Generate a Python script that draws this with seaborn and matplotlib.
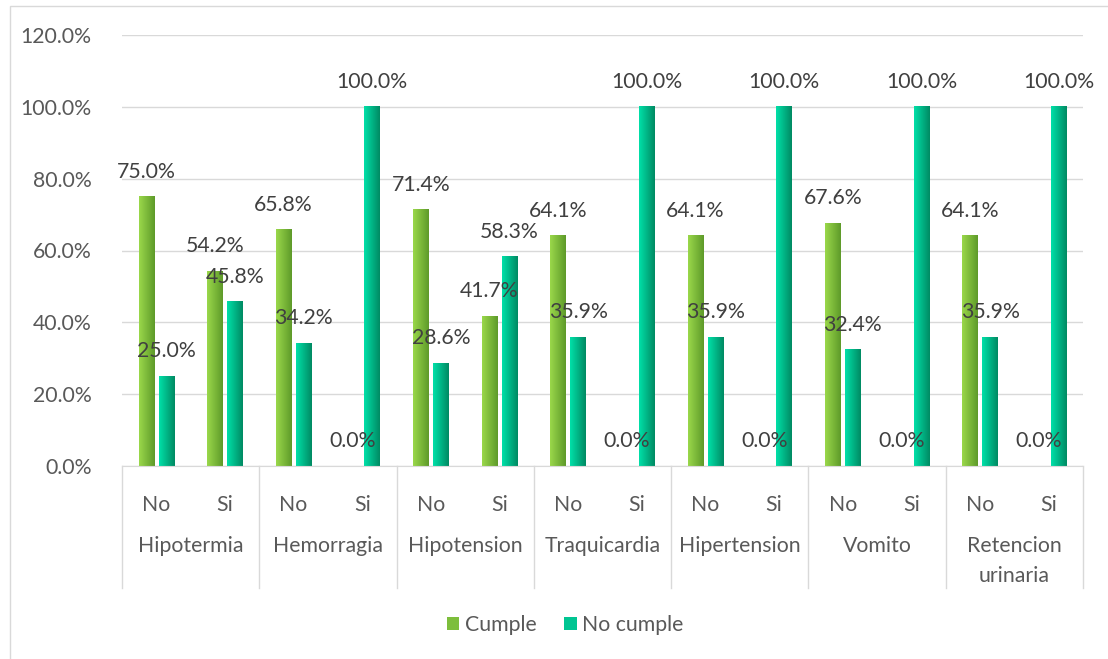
import numpy as np
import pandas as pd
import matplotlib
matplotlib.use("Agg")
import matplotlib.pyplot as plt
import seaborn as sns
from matplotlib.patches import Patch, Rectangle

complicaciones = ["Hipotermia", "Hemorragia", "Hipotension", "Traquicardia",
                  "Hipertension", "Vomito", "Retencion\nurinaria"]
respuestas = ["No", "Si"]
cumple = [75.0, 54.2, 65.8, 0.0, 71.4, 41.7, 64.1, 0.0, 64.1, 0.0, 67.6, 0.0, 64.1, 0.0]
no_cumple = [25.0, 45.8, 34.2, 100.0, 28.6, 58.3, 35.9, 100.0, 35.9, 100.0, 32.4, 100.0, 35.9, 100.0]
series = ["Cumple", "No cumple"]

rows = []
for i, comp in enumerate(complicaciones):
    for j, r in enumerate(respuestas):
        k = i * 2 + j
        key = f"{comp}|{r}"
        rows.append({"cat": key, "serie": "Cumple", "valor": cumple[k]})
        rows.append({"cat": key, "serie": "No cumple", "valor": no_cumple[k]})
df = pd.DataFrame(rows)

# light -> dark gradients like the Excel fill
grad = {
    "Cumple": ("#9AD84A", "#5E9A2A"),
    "No cumple": ("#00E0A8", "#008A63"),
}
mid = {"Cumple": "#7DBE3C", "No cumple": "#00C592"}
txt = "#595959"
fs = 15.3

plt.rcParams["font.family"] = ["Lato", "DejaVu Sans"]
fig = plt.figure(figsize=(11.08, 6.59), dpi=100)
ax = fig.add_axes([122 / 1108, 1 - 466 / 659, (1083 - 122) / 1108, (466 - 35) / 659])

sns.barplot(data=df, x="cat", y="valor", hue="serie", hue_order=series,
            palette=mid, width=0.58, gap=0.22, ax=ax, legend=False)

# gradient fill + labels
n_cat = len(complicaciones) * 2
for ci, s in enumerate(series):
    cmap = matplotlib.colors.LinearSegmentedColormap.from_list(s, grad[s])
    vals = cumple if s == "Cumple" else no_cumple
    for bar, v in zip(ax.containers[ci], vals):
        x0 = bar.get_x()
        w = bar.get_width()
        h = bar.get_height()
        if h > 0:
            ax.imshow(np.linspace(0, 1, 64).reshape(1, -1), cmap=cmap,
                      extent=[x0, x0 + w, 0, h], aspect="auto", zorder=2)
            bar.set_visible(False)
        ax.annotate(f"{v:.1f}%", (x0 + w / 2, h), xytext=(0, 18),
                    textcoords="offset points", ha="center", va="center",
                    fontsize=fs, color="#404040", zorder=4)

ax.set_xlim(-0.5, n_cat - 0.5)
ax.set_ylim(0, 120)
ax.set_yticks(np.arange(0, 121, 20))
ax.set_yticklabels([f"{t:.1f}%" for t in np.arange(0, 121, 20)], fontsize=fs, color=txt)
ax.yaxis.grid(True, color="#D9D9D9", linewidth=1)
ax.set_axisbelow(True)
ax.tick_params(axis="y", length=0, pad=22)
ax.set_xticks(range(n_cat))
ax.set_xticklabels(respuestas * len(complicaciones), fontsize=fs, color=txt)
ax.tick_params(axis="x", length=0, pad=21)
ax.set_xlabel("")
ax.set_ylabel("")
for sp in ["top", "right", "left"]:
    ax.spines[sp].set_visible(False)
ax.spines["bottom"].set_color("#D9D9D9")

# group labels and separators
trans = ax.get_xaxis_transform()
for i, comp in enumerate(complicaciones):
    ax.text(i * 2 + 0.5, -0.163, comp, transform=trans, ha="center", va="top",
            fontsize=fs, color=txt, linespacing=1.6)
for b in range(len(complicaciones) + 1):
    ax.plot([b * 2 - 0.5, b * 2 - 0.5], [0, -122 / 431], transform=trans,
            color="#D9D9D9", linewidth=1, clip_on=False)

handles = [Patch(facecolor=mid[s], label=s) for s in series]
fig.legend(handles=handles, loc="center", bbox_to_anchor=(0.51, 1 - 625 / 659),
           ncol=2, frameon=False, fontsize=fs, handlelength=0.6, handleheight=0.6,
           columnspacing=1.3, handletextpad=0.25, labelcolor=txt)

fig.patches.append(Rectangle((10 / 1108, -0.05), 1.2, 1 - 6 / 659 + 0.05,
                             transform=fig.transFigure, fill=False,
                             edgecolor="#D9D9D9", linewidth=1))

fig.savefig("out.png", dpi=100)
